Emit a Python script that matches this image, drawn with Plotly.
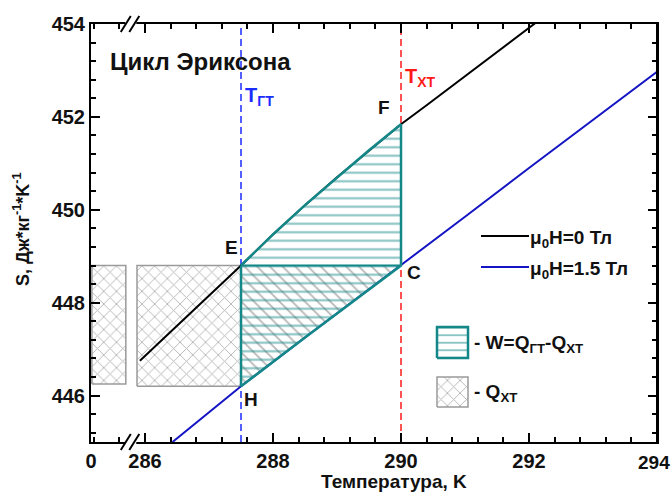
import plotly.graph_objects as go

# ---------------- data ----------------
# mu0H = 0 T curve (temperature K, entropy J/(kg K))
T_H0 = [285.92, 286.5, 287.0, 287.5, 288.0, 288.5, 289.0, 289.5, 290.0, 290.4, 290.8, 291.3, 291.8, 292.3]
S_H0 = [446.75, 447.50, 448.15, 448.80, 449.47, 450.10, 450.70, 451.28, 451.84, 452.25, 452.67, 453.19, 453.71, 454.23]
# mu0H = 1.5 T curve
T_H15 = [286.43, 287.5, 288.5, 290.0, 291.0, 292.0, 293.0, 294.0]
S_H15 = [445.00, 446.20, 447.25, 448.80, 449.85, 450.90, 451.93, 452.97]

T_GT = 287.5   # T_ГТ
T_XT = 290.0   # T_ХТ

# Q_XT hatched blocks (left block lies in the broken part of the axis)
QXT_LEFT_T = [285.17, 285.70]
QXT_LEFT_S = [446.25, 448.80]
QXT_RIGHT_T = [285.875, 287.5]
QXT_RIGHT_S = [446.20, 448.80]

X_RANGE = [285.156, 294.0]
Y_RANGE = [445.0, 454.0]
X_TICKVALS = [285.156, 286, 288, 290, 292, 294]
X_TICKTEXT = ["0", "286", "288", "290", "292", ""]
X_EDGE_LABEL = "294"   # drawn separately so it is not clipped at the page edge
Y_TICKVALS = [446, 448, 450, 452, 454]
Y_TICKTEXT = ["446", "448", "450", "452", "454"]
BREAK_T = 285.77

# ---------------- style ----------------
W, H = 672, 497
PL, PR, PT, PB = 91, 657, 24, 442
FONT = "Liberation Sans, Arial, sans-serif"
TEAL = "#148888"
TEAL_HATCH = "#168a8a"
GREY = "#707070"
BLUE_CURVE = "#1414c4"


def px_T(px):
    return X_RANGE[0] + (px - PL) / (PR - PL) * (X_RANGE[1] - X_RANGE[0])


def py_S(py):
    return Y_RANGE[1] - (py - PT) / (PB - PT) * (Y_RANGE[1] - Y_RANGE[0])


def val_at(ts, ss, t):
    return ss[ts.index(t)]


S_E = val_at(T_H0, S_H0, T_GT)
S_F = val_at(T_H0, S_H0, T_XT)
S_H = val_at(T_H15, S_H15, T_GT)
S_C = val_at(T_H15, S_H15, T_XT)

black_seg = [(t, s) for t, s in zip(T_H0, S_H0) if T_GT <= t <= T_XT]
blue_seg = [(t, s) for t, s in zip(T_H15, S_H15) if T_GT <= t <= T_XT]
w_poly = black_seg + blue_seg[::-1] + [black_seg[0]]
tri_poly = [(T_GT, S_E), (T_XT, S_C)] + blue_seg[::-1][1:] + [(T_GT, S_E)]

fig = go.Figure()


def rect(ts, ss):
    return [ts[0], ts[1], ts[1], ts[0], ts[0]], [ss[0], ss[0], ss[1], ss[1], ss[0]]


# vertical isotherms
fig.add_trace(go.Scatter(x=[T_GT, T_GT], y=Y_RANGE, mode="lines",
                         line=dict(color="#1a2cff", width=1.5, dash="7px,4px")))
fig.add_trace(go.Scatter(x=[T_XT, T_XT], y=Y_RANGE, mode="lines",
                         line=dict(color="#ff1a1a", width=1.5, dash="7px,4px")))

# Q_XT blocks
for ts, ss in [(QXT_LEFT_T, QXT_LEFT_S), (QXT_RIGHT_T, QXT_RIGHT_S)]:
    xs, ys = rect(ts, ss)
    fig.add_trace(go.Scatter(x=xs, y=ys, mode="lines", fill="toself",
                             fillcolor="rgba(0,0,0,0)",
                             fillpattern=dict(shape="x", fgcolor=GREY, bgcolor="rgba(0,0,0,0)",
                                              size=9, solidity=0.2),
                             line=dict(color="#9a9a9a", width=1.5)))

# triangle E-C-H
fig.add_trace(go.Scatter(x=[p[0] for p in tri_poly], y=[p[1] for p in tri_poly], mode="lines",
                         fill="toself", fillcolor="rgba(0,0,0,0)",
                         fillpattern=dict(shape="\\", fgcolor=GREY, bgcolor="rgba(0,0,0,0)",
                                          size=9, solidity=0.2),
                         line=dict(color="rgba(0,0,0,0)", width=0)))

# curves
fig.add_trace(go.Scatter(x=T_H0, y=S_H0, mode="lines", line=dict(color="black", width=2)))
fig.add_trace(go.Scatter(x=T_H15, y=S_H15, mode="lines", line=dict(color=BLUE_CURVE, width=2)))

# W region
fig.add_trace(go.Scatter(x=[p[0] for p in w_poly], y=[p[1] for p in w_poly], mode="lines",
                         fill="toself", fillcolor="rgba(0,0,0,0)",
                         fillpattern=dict(shape="-", fgcolor=TEAL_HATCH, bgcolor="rgba(0,0,0,0)",
                                          size=8.5, solidity=0.25),
                         line=dict(color=TEAL, width=2.5)))
fig.add_trace(go.Scatter(x=[T_GT, T_XT], y=[S_E, S_C], mode="lines",
                         line=dict(color=TEAL, width=2)))

# legend swatches
fig.add_trace(go.Scatter(x=[px_T(481), px_T(529)], y=[py_S(236)] * 2, mode="lines",
                         line=dict(color="black", width=2)))
fig.add_trace(go.Scatter(x=[px_T(481), px_T(529)], y=[py_S(267)] * 2, mode="lines",
                         line=dict(color=BLUE_CURVE, width=2)))
xs, ys = rect([px_T(437), px_T(468)], [py_S(358), py_S(327)])
fig.add_trace(go.Scatter(x=xs, y=ys, mode="lines", fill="toself", fillcolor="rgba(0,0,0,0)",
                         fillpattern=dict(shape="-", fgcolor=TEAL_HATCH, bgcolor="rgba(0,0,0,0)",
                                          size=7.5, solidity=0.25),
                         line=dict(color=TEAL, width=2.5)))
xs, ys = rect([px_T(437), px_T(468)], [py_S(407), py_S(377)])
fig.add_trace(go.Scatter(x=xs, y=ys, mode="lines", fill="toself", fillcolor="rgba(0,0,0,0)",
                         fillpattern=dict(shape="x", fgcolor=GREY, bgcolor="rgba(0,0,0,0)",
                                          size=9, solidity=0.2),
                         line=dict(color="#9a9a9a", width=1.5)))

# ---------------- annotations ----------------
def ann(text, px, py, size=19, color="#111111", xanchor="left"):
    fig.add_annotation(x=px_T(px), y=py_S(py), text=text, showarrow=False,
                       xanchor=xanchor, yanchor="middle",
                       font=dict(family=FONT, size=size, color=color, weight="bold"))


ann("Цикл Эриксона", 108, 61, size=24)
ann("T<sub>ГТ</sub>", 243, 96, size=20, color="#1a2cff")
ann("T<sub>ХТ</sub>", 403, 77, size=20, color="#ff1a1a")
ann("F", 384, 107, xanchor="center")
ann("E", 231, 247, xanchor="center")
ann("C", 414, 272, xanchor="center")
ann("H", 251, 399, xanchor="center")
ann("μ<sub>0</sub>H=0 Тл", 528, 239)
ann("μ<sub>0</sub>H=1.5 Тл", 528, 270)
ann("- W=Q<sub>ГТ</sub>-Q<sub>ХТ</sub>", 472, 344)
ann("- Q<sub>ХТ</sub>", 472, 393)

# right-most x tick label
fig.add_annotation(x=X_TICKVALS[-1], y=(PB - 462) / (PB - PT), xref="x", yref="paper",
                   text=X_EDGE_LABEL, showarrow=False, xanchor="center", yanchor="middle",
                   xshift=-3,
                   font=dict(family=FONT, size=19, color="#111111", weight="bold"))

# axis titles
fig.add_annotation(x=(22 - PL) / (PR - PL), y=(PB - 229) / (PB - PT), xref="paper", yref="paper",
                   text="S, Дж*кг<sup>-1</sup>*K<sup>-1</sup>", textangle=-90, showarrow=False,
                   xanchor="center", yanchor="middle",
                   font=dict(family=FONT, size=18, color="#111111", weight="bold"))
fig.add_annotation(x=(394 - PL) / (PR - PL), y=(PB - 481) / (PB - PT), xref="paper", yref="paper",
                   text="Температура, K", showarrow=False, xanchor="center", yanchor="middle",
                   font=dict(family=FONT, size=19, color="#111111", weight="bold"))

# frame (right edge drawn explicitly as well)
fig.add_shape(type="line", xref="paper", yref="paper", x0=1, x1=1, y0=0, y1=1,
              line=dict(color="black", width=2))

# axis break marks (bottom and top)
for ya in (0, 1):
    fig.add_shape(type="line", xref="x", yref="paper", xsizemode="pixel", ysizemode="pixel",
                  xanchor=BREAK_T, yanchor=ya, x0=-5, x1=6, y0=0, y1=0,
                  line=dict(color="white", width=5))
    for dx in (-4.5, 4):
        fig.add_shape(type="line", xref="x", yref="paper", xsizemode="pixel", ysizemode="pixel",
                      xanchor=BREAK_T, yanchor=ya, x0=dx - 5, x1=dx + 5, y0=-8, y1=8,
                      line=dict(color="black", width=2))

axis_common = dict(showgrid=False, zeroline=False, showline=True, linewidth=2, linecolor="black",
                   mirror="allticks", ticks="inside", ticklen=9, tickwidth=2, tickcolor="black",
                   automargin=False,
                   tickfont=dict(family=FONT, size=20, color="#111111", weight="bold"))

fig.update_xaxes(range=X_RANGE, tickmode="array", tickvals=X_TICKVALS, ticktext=X_TICKTEXT,
                 minor=dict(tickmode="linear", tick0=286, dtick=0.4, ticks="inside", ticklen=5,
                            tickwidth=1.5, tickcolor="black", showgrid=False),
                 **axis_common)
fig.update_yaxes(range=Y_RANGE, tickmode="array", tickvals=Y_TICKVALS, ticktext=Y_TICKTEXT,
                 minor=dict(tickmode="linear", tick0=446, dtick=0.4, ticks="inside", ticklen=5,
                            tickwidth=1.5, tickcolor="black", showgrid=False),
                 **axis_common)

fig.update_layout(width=W, height=H, margin=dict(l=PL, r=W - PR, t=PT, b=H - PB, autoexpand=False),
                  plot_bgcolor="white", paper_bgcolor="white", showlegend=False,
                  font=dict(family=FONT, color="#111111"))

fig.write_html("out.html", config={"displayModeBar": False},
               post_script="document.body.style.margin='0';document.body.style.padding='0';"
                           "document.documentElement.style.overflow='hidden';")
